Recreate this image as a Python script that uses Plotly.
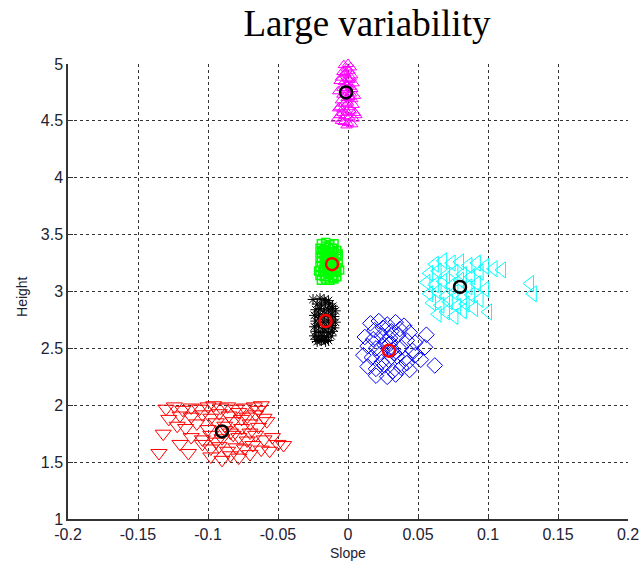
import plotly.graph_objects as go

# ---- data ----
mag_x = [-0.003, 0.000, -0.001, 0.002, -0.004, 0.001, -0.002, 0.003, -0.005, 0.000,
         -0.006, -0.003, 0.001, 0.004, -0.001, 0.002, -0.004, 0.003, -0.002, 0.000,
         -0.007, -0.004, 0.002, 0.005, -0.001, 0.003, -0.005, 0.000, -0.003, 0.004, 0.001, -0.006,
         -0.007, -0.004, -0.001, 0.002, 0.005, -0.006, -0.002, 0.001, 0.004, -0.005, -0.003,
         0.000, 0.003, -0.001, 0.006, -0.008, 0.001, -0.002, 0.002, -0.004, 0.000]
mag_y = [4.99, 5.00, 4.96, 4.97, 4.93, 4.94, 4.91, 4.90, 4.88, 4.87,
         4.85, 4.84, 4.86, 4.83, 4.82, 4.80, 4.79, 4.78, 4.77, 4.81,
         4.76, 4.73, 4.74, 4.72, 4.70, 4.69, 4.68, 4.66, 4.65, 4.64, 4.71, 4.62,
         4.61, 4.60, 4.58, 4.59, 4.57, 4.55, 4.54, 4.53, 4.52, 4.50, 4.49,
         4.48, 4.47, 4.46, 4.55, 4.52, 4.62, 4.92, 4.88, 4.57, 4.75]

grn_x = [-0.019, -0.016, -0.013, -0.010,
         -0.020, -0.017, -0.014, -0.011, -0.008,
         -0.019, -0.016, -0.013, -0.010, -0.007,
         -0.020, -0.017, -0.014, -0.011, -0.008,
         -0.019, -0.016, -0.013, -0.010, -0.007,
         -0.020, -0.017, -0.014, -0.011, -0.008,
         -0.021, -0.018, -0.015, -0.012, -0.009, -0.006,
         -0.020, -0.017, -0.014, -0.011, -0.008,
         -0.019, -0.016, -0.013, -0.010,
         -0.018, -0.015, -0.012, -0.009, -0.017, -0.014, -0.011, -0.016, -0.013, -0.010]
grn_y = [3.42, 3.43, 3.41, 3.42,
         3.38, 3.37, 3.39, 3.38, 3.36,
         3.34, 3.33, 3.35, 3.34, 3.33,
         3.30, 3.31, 3.29, 3.30, 3.31,
         3.26, 3.25, 3.27, 3.26, 3.25,
         3.22, 3.21, 3.23, 3.22, 3.21,
         3.18, 3.17, 3.19, 3.18, 3.17, 3.19,
         3.14, 3.13, 3.15, 3.14, 3.13,
         3.10, 3.11, 3.10, 3.11,
         3.36, 3.32, 3.28, 3.24, 3.20, 3.16, 3.12, 3.40, 3.28, 3.20]

blk_x = [-0.025, -0.020, -0.017, -0.014,
         -0.022, -0.019, -0.016, -0.013, -0.011,
         -0.023, -0.020, -0.017, -0.014, -0.011, -0.009,
         -0.024, -0.021, -0.018, -0.015, -0.012, -0.010,
         -0.023, -0.020, -0.017, -0.014, -0.011, -0.009,
         -0.024, -0.021, -0.018, -0.015, -0.012, -0.010,
         -0.023, -0.020, -0.017, -0.014, -0.011,
         -0.024, -0.021, -0.018, -0.015, -0.012,
         -0.023, -0.020, -0.017, -0.014,
         -0.022, -0.019, -0.016]
blk_y = [2.93, 2.94, 2.93, 2.92,
         2.89, 2.88, 2.90, 2.89, 2.87,
         2.84, 2.85, 2.83, 2.84, 2.85, 2.83,
         2.79, 2.80, 2.78, 2.79, 2.80, 2.78,
         2.74, 2.75, 2.73, 2.74, 2.75, 2.73,
         2.69, 2.70, 2.68, 2.69, 2.70, 2.68,
         2.65, 2.64, 2.65, 2.64, 2.65,
         2.61, 2.60, 2.61, 2.60, 2.61,
         2.58, 2.57, 2.58, 2.57,
         2.56, 2.57, 2.56]

blu_x = [0.016, 0.022, 0.028, 0.034, 0.040, 0.019, 0.025, 0.031, 0.037, 0.044,
         0.012, 0.018, 0.024, 0.030, 0.036, 0.042, 0.048,
         0.014, 0.020, 0.026, 0.032, 0.038, 0.046,
         0.011, 0.017, 0.023, 0.029, 0.035, 0.041,
         0.014, 0.020, 0.026, 0.032, 0.038, 0.044,
         0.020, 0.028, 0.034,
         0.056, 0.055, 0.062, 0.048, 0.042, 0.052, 0.027, 0.033, 0.024, 0.030]
blu_y = [2.72, 2.74, 2.71, 2.73, 2.70, 2.66, 2.68, 2.65, 2.67, 2.64,
         2.60, 2.58, 2.61, 2.59, 2.62, 2.57, 2.55,
         2.52, 2.50, 2.53, 2.49, 2.51, 2.48,
         2.44, 2.42, 2.45, 2.40, 2.43, 2.41,
         2.34, 2.32, 2.35, 2.30, 2.33, 2.31,
         2.26, 2.25, 2.27,
         2.62, 2.51, 2.35, 2.44, 2.37, 2.40, 2.56, 2.46, 2.38, 2.54]

cyn_x = [0.062, 0.068, 0.074, 0.080, 0.086, 0.092, 0.098,
         0.058, 0.064, 0.070, 0.076, 0.082, 0.088, 0.094, 0.104, 0.110,
         0.056, 0.062, 0.068, 0.074, 0.080, 0.086, 0.092, 0.098,
         0.058, 0.064, 0.070, 0.076, 0.082, 0.088, 0.094, 0.130, 0.132,
         0.060, 0.066, 0.072, 0.078, 0.084, 0.090, 0.100,
         0.064, 0.070, 0.076, 0.082]
cyn_y = [3.24, 3.27, 3.25, 3.26, 3.23, 3.25, 3.22,
         3.16, 3.18, 3.14, 3.17, 3.15, 3.13, 3.17, 3.20, 3.19,
         3.08, 3.06, 3.09, 3.05, 3.10, 3.04, 3.07, 3.02,
         2.98, 3.00, 2.96, 2.99, 2.95, 2.97, 2.93, 3.07, 2.98,
         2.90, 2.88, 2.91, 2.87, 2.89, 2.85, 2.82,
         2.80, 2.82, 2.78, 2.83]

red_x = [-0.130, -0.124, -0.118, -0.112, -0.106, -0.100, -0.096, -0.091, -0.086, -0.080,
         -0.074, -0.067, -0.062, -0.064,
         -0.128, -0.120, -0.112, -0.104, -0.098, -0.092, -0.085, -0.078, -0.072, -0.066, -0.060,
         -0.132, -0.122, -0.116, -0.108, -0.100, -0.094, -0.088, -0.082, -0.076, -0.070, -0.064, -0.058,
         -0.112, -0.104, -0.098, -0.090, -0.084, -0.078, -0.072, -0.066, -0.060, -0.054, -0.050, -0.046,
         -0.135, -0.114, -0.098, -0.092, -0.086, -0.080, -0.074, -0.068, -0.062, -0.056,
         -0.098, -0.090, -0.084, -0.078, -0.070, -0.120, -0.104, -0.094, -0.088, -0.082, -0.076, -0.070]
red_y = [1.97, 1.99, 1.96, 1.98, 1.97, 1.99, 2.00, 1.98, 1.99, 1.97,
         1.98, 1.99, 2.00, 1.96,
         1.88, 1.91, 1.90, 1.92, 1.89, 1.93, 1.91, 1.94, 1.90, 1.92, 1.89,
         1.75, 1.82, 1.80, 1.84, 1.79, 1.85, 1.82, 1.86, 1.80, 1.84, 1.81, 1.86,
         1.72, 1.70, 1.74, 1.71, 1.76, 1.72, 1.69, 1.74, 1.70, 1.72, 1.66, 1.65,
         1.58, 1.58, 1.62, 1.64, 1.60, 1.63, 1.62, 1.65, 1.61, 1.60,
         1.55, 1.52, 1.56, 1.54, 1.57, 1.66, 1.66, 1.68, 1.78, 1.74, 1.88, 1.76]

mean_x = [-0.0014, -0.0114, -0.0160, 0.0293, 0.0800, -0.0900]
mean_y = [4.75, 3.24, 2.74, 2.48, 3.04, 1.77]
mean_colors = ["black", "red", "red", "red", "black", "black"]

x_ticks = [-0.2, -0.15, -0.1, -0.05, 0, 0.05, 0.1, 0.15, 0.2]
x_tick_text = ["-0.2", "-0.15", "-0.1", "-0.05", "0", "0.05", "0.1", "0.15", "0.2"]
y_ticks = [1, 1.5, 2, 2.5, 3, 3.5, 4, 4.5, 5]
y_tick_text = ["1", "1.5", "2", "2.5", "3", "3.5", "4", "4.5", "5"]

fig = go.Figure()

def add(xs, ys, symbol, color, size, width=1):
    fig.add_trace(go.Scatter(x=xs, y=ys, mode="markers",
                             marker=dict(symbol=symbol, size=size, color=color,
                                         line=dict(color=color, width=width)),
                             showlegend=False, hoverinfo="skip", cliponaxis=False))

add(red_x, red_y, "triangle-down-open", "#ff0000", 14)
add(cyn_x, cyn_y, "triangle-left-open", "#00ffff", 14)
add(blu_x, blu_y, "diamond-open", "#0000ff", 12)
add(blk_x, blk_y, "asterisk-open", "#000000", 9)
add(grn_x, grn_y, "square-open", "#00ff00", 8, 1.5)
add(mag_x, mag_y, "triangle-up-open", "#ff00ff", 10)

fig.add_trace(go.Scatter(x=mean_x, y=mean_y, mode="markers",
                         marker=dict(symbol="circle-open", size=12, color=mean_colors,
                                     line=dict(color=mean_colors, width=2.5)),
                         showlegend=False, hoverinfo="skip"))

FONT = "Liberation Sans, Arial"
axis_common = dict(showgrid=True, gridcolor="#333333", griddash="3px,3px", gridwidth=1.3,
                   zeroline=False, showline=True, linecolor="#333333", linewidth=1.5,
                   ticks="inside", ticklen=5, tickcolor="#333333", automargin=False,
                   tickfont=dict(family=FONT, size=16, color="#222233"))

fig.update_xaxes(range=[-0.2, 0.2], tickvals=x_ticks, ticktext=x_tick_text, **axis_common)
fig.update_yaxes(range=[1, 5], tickvals=y_ticks, ticktext=y_tick_text, **axis_common)

# axis titles
fig.add_annotation(text="Slope", xref="paper", yref="paper", x=0.5, y=0, yshift=-34,
                   xanchor="center", yanchor="middle", showarrow=False,
                   font=dict(family=FONT, size=14, color="#222233"))
fig.add_annotation(text="Height", xref="paper", yref="paper", x=0, y=0.488, xshift=-46,
                   xanchor="center", yanchor="middle", showarrow=False, textangle=-90,
                   font=dict(family=FONT, size=14, color="#222233"))

fig.update_layout(
    width=641, height=567, plot_bgcolor="white", paper_bgcolor="white",
    margin=dict(l=68, r=13, t=64, b=48),
    title=dict(text="Large variability", xref="container", yref="container",
               x=0.5725, y=0.9594, xanchor="center", yanchor="middle",
               font=dict(family="Liberation Serif, Times New Roman", size=37, color="black")),
)

# remove the page's default body margin so the figure fills the 641x567 window exactly
fig.write_html("out.html", config={"displayModeBar": False},
               post_script="document.body.style.margin='0';")
